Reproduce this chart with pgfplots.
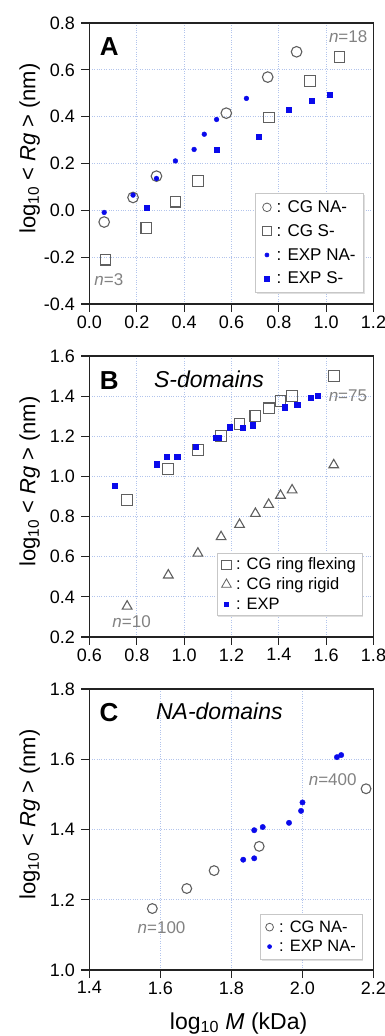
\documentclass[border=0pt]{standalone}
\usepackage{fontspec}
\setmainfont{Liberation Sans}
\usepackage{pgfplots}
\pgfplotsset{compat=1.18}
\usetikzlibrary{shadows}
\definecolor{cgray}{RGB}{95,95,95}
\definecolor{nlab}{RGB}{130,130,130}
\definecolor{eblue}{RGB}{10,10,235}
\definecolor{gridc}{RGB}{178,196,236}
\definecolor{axc}{RGB}{35,35,35}
\pgfplotsset{
  cglegend/.style={legend image code/.code={\path (-5pt,0pt) (7pt,0pt); \draw[##1,mark size=#1,line width=0.8pt] plot coordinates {(0pt,0pt)};}},
  exlegend/.style={legend image code/.code={\path (-5pt,0pt) (7pt,0pt); \draw[##1,mark size=#1] plot coordinates {(0pt,0pt)};}},
  panel/.style={
    scale only axis, width=284pt, height=281pt, clip=false,
    axis line style={axc, line width=1.2pt},
    tick style={axc, line width=1.2pt},
    major tick length=8pt,
    tick align=outside,
    xtick pos=left, ytick pos=left,
    grid=major,
    major grid style={gridc, dotted, line width=0.8pt},
    tick label style={font=\fontsize{18}{20}\selectfont},
    /pgf/number format/assume math mode=true,
    x tick label style={/pgf/number format/fixed,/pgf/number format/fixed zerofill,/pgf/number format/precision=1},
    y tick label style={/pgf/number format/fixed,/pgf/number format/fixed zerofill,/pgf/number format/precision=1, xshift=-3pt},
    ylabel={log\textsubscript{10} < \textit{Rg} > (nm)},
    every axis y label/.style={at={(axis description cs:-0.211,0.553)}, rotate=90, anchor=center, font=\fontsize{22}{24}\selectfont},
    legend cell align=left,
    legend style={font=\fontsize{16.5}{19}\selectfont, draw=black!22, line width=0.6pt, fill=white,
      drop shadow={shadow xshift=1.5pt, shadow yshift=-1.5pt, opacity=0.25},
      inner xsep=4pt, inner ysep=3pt},
  },
  cgmark/.style={only marks, cgray, line width=1.1pt},
  exmark/.style={only marks, eblue, mark options={draw=none, fill=eblue}},
}
\begin{document}
\begin{tikzpicture}
\useasboundingbox (-89.5pt,-66pt) rectangle (295.5pt,970pt);

% ---------------- Panel A
\begin{axis}[panel, at={(0pt,666pt)}, anchor=south west,
  xmin=0, xmax=1.2, ymin=-0.4, ymax=0.8,
  xtick={0,0.2,0.4,0.6,0.8,1.0,1.2}, ytick={-0.4,-0.2,0,0.2,0.4,0.6,0.8},
  legend style={at={(rel axis cs:0.966,0.04)}, anchor=south east, row sep=6.5pt, inner xsep=6pt, inner ysep=5pt, font=\fontsize{17}{19}\selectfont},
]
\addplot[cgmark, mark=o, mark size=5.3pt, cglegend=4.3pt] coordinates {
(0.062,-0.050) (0.184,0.055) (0.283,0.146) (0.578,0.415) (0.753,0.569) (0.875,0.677)};
\addlegendentry{: CG NA-}
\addplot[cgmark, mark=square, mark size=5.3pt, cglegend=4.6pt] coordinates {
(0.067,-0.211) (0.240,-0.075) (0.364,0.037) (0.459,0.126) (0.758,0.397) (0.932,0.553) (1.056,0.655)};
\addlegendentry{: CG S-}
\addplot[exmark, mark=*, mark size=2.4pt, exlegend=2pt] coordinates {
(0.062,-0.009) (0.184,0.065) (0.283,0.136) (0.363,0.211) (0.442,0.260) (0.485,0.325) (0.537,0.388) (0.663,0.478)};
\addlegendentry{: EXP NA-}
\addplot[exmark, mark=square*, mark size=2.5pt, exlegend=2.3pt] coordinates {
(0.240,0.013) (0.539,0.258) (0.716,0.316) (0.840,0.428) (0.937,0.467) (1.016,0.495)};
\addlegendentry{: EXP S-}
\node[font=\fontsize{26}{28}\selectfont\bfseries] at (axis cs:0.084,0.70) {A};
\node[nlab, font=\fontsize{17}{19}\selectfont] at (axis cs:1.093,0.74) {\textit{n}=18};
\node[nlab, font=\fontsize{17}{19}\selectfont] at (axis cs:0.082,-0.298) {\textit{n}=3};
\end{axis}

% ---------------- Panel B
\begin{axis}[panel, at={(0pt,333pt)}, anchor=south west,
  xmin=0.6, xmax=1.8, ymin=0.2, ymax=1.6,
  xtick={0.6,0.8,1.0,1.2,1.4,1.6,1.8}, ytick={0.2,0.4,0.6,0.8,1.0,1.2,1.4,1.6},
  legend style={at={(rel axis cs:0.96,0.075)}, anchor=south east, row sep=2.5pt},
]
\addplot[cgmark, mark=square, mark size=5.4pt, cglegend=4.6pt] coordinates {
(0.759,0.882) (0.933,1.037) (1.058,1.131) (1.156,1.201) (1.234,1.261) (1.301,1.301) (1.357,1.339) (1.407,1.376) (1.456,1.402) (1.632,1.502)};
\addlegendentry{: CG ring flexing}
\addplot[cgmark, mark=triangle, mark size=5.6pt, cglegend=5.6pt] coordinates {
(0.759,0.353) (0.933,0.508) (1.058,0.617) (1.156,0.699) (1.234,0.760) (1.301,0.815) (1.357,0.860) (1.407,0.905) (1.456,0.932) (1.632,1.057)};
\addlegendentry{: CG ring rigid}
\addplot[exmark, mark=square*, mark size=2.7pt, exlegend=2.3pt] coordinates {
(0.706,0.953) (0.885,1.060) (0.927,1.098) (0.971,1.098) (1.048,1.148) (1.132,1.193) (1.146,1.193) (1.193,1.246) (1.248,1.244) (1.290,1.256) (1.424,1.344) (1.477,1.356) (1.534,1.392) (1.565,1.402)};
\addlegendentry{: EXP}
\node[font=\fontsize{26}{28}\selectfont\bfseries] at (axis cs:0.684,1.48) {B};
\node[anchor=west, inner sep=0pt, font=\fontsize{23}{25}\selectfont\itshape] at (axis cs:0.872,1.484) {S-domains};
\node[nlab, font=\fontsize{17}{19}\selectfont] at (axis cs:1.692,1.40) {\textit{n}=75};
\node[nlab, font=\fontsize{17}{19}\selectfont] at (axis cs:0.778,0.275) {\textit{n}=10};
\end{axis}

% ---------------- Panel C
\begin{axis}[panel, at={(0pt,0pt)}, anchor=south west,
  xmin=1.4, xmax=2.2, ymin=1.0, ymax=1.8,
  xtick={1.4,1.6,1.8,2.0,2.2}, ytick={1.0,1.2,1.4,1.6,1.8},
  xlabel={log\textsubscript{10} \textit{M} (kDa)},
  every axis x label/.style={at={(axis description cs:0.525,-0.189)}, anchor=center, font=\fontsize{23}{25}\selectfont},
  legend style={at={(rel axis cs:0.96,0.038)}, anchor=south east, row sep=2.5pt, inner ysep=4pt},
]
\addplot[cgmark, mark=o, mark size=4.9pt, cglegend=3.9pt] coordinates {
(1.577,1.175) (1.674,1.232) (1.751,1.283) (1.878,1.352) (2.179,1.516)};
\addlegendentry{: CG NA-}
\addplot[exmark, mark=*, mark size=2.7pt, exlegend=2pt] coordinates {
(1.833,1.314) (1.864,1.318) (1.864,1.398) (1.888,1.407) (1.962,1.419) (1.996,1.453) (2.000,1.477) (2.097,1.606) (2.109,1.612)};
\addlegendentry{: EXP NA-}
\node[font=\fontsize{26}{28}\selectfont\bfseries] at (axis cs:1.455,1.734) {C};
\node[anchor=west, inner sep=0pt, font=\fontsize{23}{25}\selectfont\itshape] at (axis cs:1.587,1.736) {NA-domains};
\node[nlab, font=\fontsize{17}{19}\selectfont] at (axis cs:2.085,1.542) {\textit{n}=400};
\node[nlab, font=\fontsize{17}{19}\selectfont] at (axis cs:1.603,1.12) {\textit{n}=100};
\end{axis}
\end{tikzpicture}
\end{document}
